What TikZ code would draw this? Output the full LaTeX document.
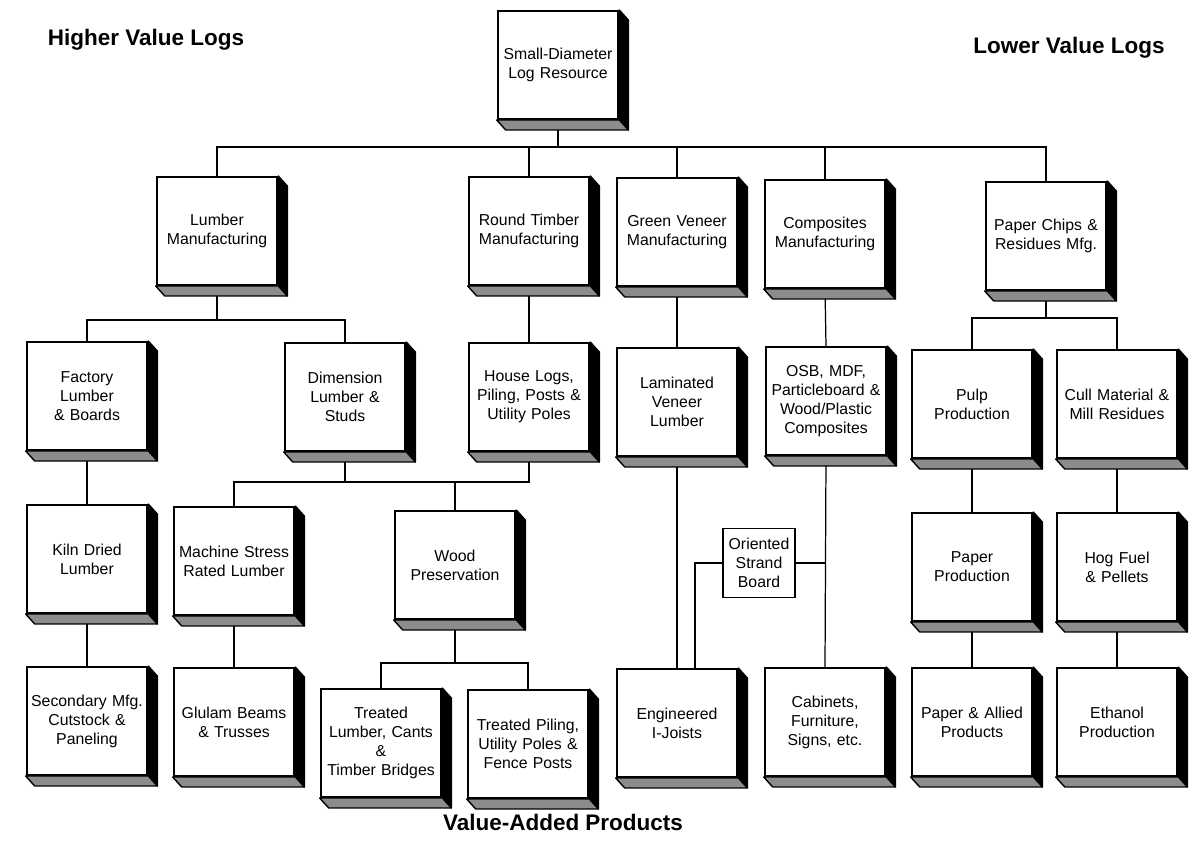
\documentclass[tikz,border=0pt]{standalone}
\usepackage{fontspec}
\setmainfont{Liberation Sans}
\usetikzlibrary{positioning, calc}
\definecolor{slabgray}{RGB}{140, 140, 140}
\tikzset{
  stage/.style={draw, line width=1.1pt, fill=white, minimum width=2.4cm, minimum height=2.16cm, text width=2.38cm, align=center, inner sep=0.5pt, font=\fontsize{9}{10.8}\selectfont},
  board/.style={draw, line width=1.1pt, fill=white, minimum width=1.44cm, minimum height=1.38cm, text width=1.36cm, align=center, inner sep=1pt, font=\fontsize{9}{10.8}\selectfont},
  link/.style={line width=0.7pt},
  banner/.style={font=\fontsize{12.8}{15}\selectfont\bfseries}
}

\begin{document}
\begin{tikzpicture}[x=0.02cm, y=-0.02cm]
  \useasboundingbox (0,0) rectangle (1192,840);

  % Headings
  \node[banner] (hi) at (146, 40) {Higher Value Logs};
  \node[banner] (lo) at (1069, 48) {Lower Value Logs};
  \node[banner] (va) at (563, 822) {Value-Added Products};

  % Resource
  \node[stage] (src) at (558, 65) {Small-Diameter\\Log Resource};

  % Primary manufacturing
  \node[stage] (lmb) at (217, 231) {Lumber\\Manufacturing};
  \node[stage] (rnd) at (529, 231) {Round Timber\\Manufacturing};
  \node[stage] (grn) at (677, 232) {Green Veneer\\Manufacturing};
  \node[stage] (cmp) at (825, 234) {Composites\\Manufacturing};
  \node[stage] (chp) at (1046, 236) {Paper Chips \&\\Residues Mfg.};

  % Second level
  \node[stage] (fac) at (87, 396) {Factory\\Lumber\\\& Boards};
  \node[stage] (dim) at (345, 397) {Dimension\\Lumber \&\\Studs};
  \node[stage] (hse) at (529, 397) {House Logs,\\Piling, Posts \&\\Utility Poles};
  \node[stage] (lvl) at (677, 402) {Laminated\\Veneer\\Lumber};
  \node[stage] (osb) at (826, 401) {OSB, MDF,\\Particleboard \&\\Wood/Plastic\\Composites};
  \node[stage] (plp) at (972, 404) {Pulp\\Production};
  \node[stage] (cul) at (1117, 404) {Cull Material \&\\Mill Residues};

  % Third level
  \node[stage] (kln) at (87, 559) {Kiln Dried\\Lumber};
  \node[stage] (msr) at (234, 561) {Machine Stress\\Rated Lumber};
  \node[stage] (wpr) at (455, 565) {Wood\\Preservation};
  \node[board] (osbd) at (759, 563) {Oriented\\Strand\\Board};
  \node[stage] (ppr) at (972, 567) {Paper\\Production};
  \node[stage] (hog) at (1117, 567) {Hog Fuel\\\& Pellets};

  % Products
  \node[stage] (sec) at (87, 721) {Secondary Mfg.\\Cutstock \&\\Paneling};
  \node[stage] (glu) at (234, 722) {Glulam Beams\\\& Trusses};
  \node[stage] (trl) at (381, 743) {Treated\\Lumber, Cants\\\&\\Timber Bridges};
  \node[stage] (trp) at (528, 744) {Treated Piling,\\Utility Poles \&\\Fence Posts};
  \node[stage] (ijs) at (677, 723) {Engineered\\I-Joists};
  \node[stage] (cab) at (825, 722) {Cabinets,\\Furniture,\\Signs, etc.};
  \node[stage] (pap) at (972, 722) {Paper \& Allied\\Products};
  \node[stage] (eth) at (1117, 722) {Ethanol\\Production};

  % Buses
  \coordinate (bus1) at (558, 147);
  \coordinate (bus2) at (217, 320);
  \coordinate (bus3) at (1046, 318);
  \coordinate (bus4) at (455, 482);
  \coordinate (bus5) at (455, 663);

  % Connectors
  \draw[link] (src.south) -- (bus1);
  \foreach \n in {lmb, rnd, grn, cmp, chp} \draw[link] (bus1) -| (\n.north);
  \draw[link] (lmb.south) -- (bus2);
  \foreach \n in {fac, dim} \draw[link] (bus2) -| (\n.north);
  \draw[link] (chp.south) -- (bus3);
  \foreach \n in {plp, cul} \draw[link] (bus3) -| (\n.north);
  \draw[link] (rnd.south) -- (hse.north);
  \draw[link] (grn.south) -- (lvl.north);
  \draw[link] (cmp.south) -- (osb.north);
  \draw[link] (dim.south) |- (bus4);
  \draw[link] (hse.south) |- (bus4);
  \draw[link] (bus4) -| (msr.north);
  \draw[link] (bus4) -- (wpr.north);
  \draw[link] (wpr.south) -- (bus5);
  \foreach \n in {trl, trp} \draw[link] (bus5) -| (\n.north);
  \draw[link] (fac.south) -- (kln.north);
  \draw[link] (kln.south) -- (sec.north);
  \draw[link] (msr.south) -- (glu.north);
  \draw[link] (lvl.south) -- (ijs.north);
  \draw[link] (osb.south) -- (cab.north);
  \draw[link] (osbd.east) -- (osbd.east -| osb.south);
  \draw[link] (osbd.west) -| ([xshift=0.36cm]ijs.north);
  \draw[link] (plp.south) -- (ppr.north);
  \draw[link] (ppr.south) -- (pap.north);
  \draw[link] (cul.south) -- (hog.north);
  \draw[link] (hog.south) -- (eth.north);

  % Slab sides
  \foreach \n in {src, lmb, rnd, grn, cmp, chp, fac, dim, hse, lvl, osb, plp, cul,
                  kln, msr, wpr, ppr, hog, sec, glu, trl, trp, ijs, cab, pap, eth} {
    \filldraw[line width=0.8pt, line join=round] (\n.north east) -- ++(9,10) -- ([shift={(9,10)}]\n.south east) -- (\n.south east) -- cycle;
    \filldraw[line width=0.8pt, line join=round, fill=slabgray] (\n.south west) -- (\n.south east) -- ([shift={(9,10)}]\n.south east) -- ([shift={(9,10)}]\n.south west) -- cycle;
  }
\end{tikzpicture}
\end{document}
